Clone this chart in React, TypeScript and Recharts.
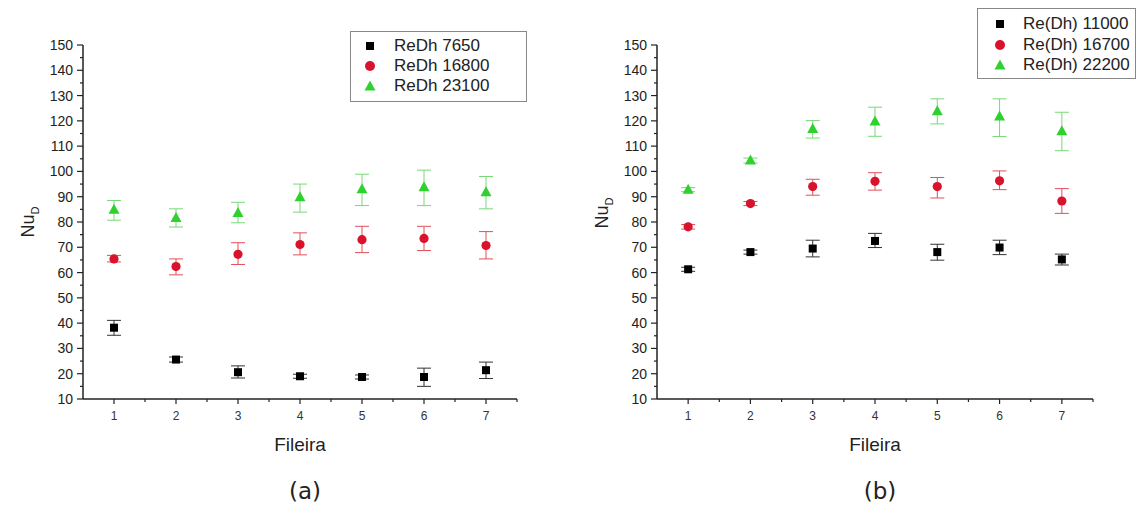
import { ScatterChart, Scatter, XAxis, YAxis, ErrorBar, Legend } from "recharts";

const rows = [1, 2, 3, 4, 5, 6, 7];
const xTicks = [1, 1.5, 2, 2.5, 3, 3.5, 4, 4.5, 5, 5.5, 6, 6.5, 7, 7.5];
const yTicks = [10, 15, 20, 25, 30, 35, 40, 45, 50, 55, 60, 65, 70, 75, 80, 85, 90, 95, 100, 105, 110, 115, 120, 125, 130, 135, 140, 145, 150];

// (a)
const namesA = ["ReDh 7650", "ReDh 16800", "ReDh 23100"];
const a7650 = [38.2, 25.6, 20.6, 19.0, 18.7, 18.7, 21.4];
const a7650Lo = [35.2, 24.6, 18.3, 18.2, 17.9, 15.0, 18.1];
const a7650Hi = [41.1, 26.6, 23.1, 19.8, 19.5, 22.2, 24.6];
const a16800 = [65.4, 62.4, 67.2, 71.1, 73.0, 73.5, 70.7];
const a16800Lo = [64.2, 59.1, 63.2, 67.0, 67.9, 68.7, 65.4];
const a16800Hi = [66.8, 65.4, 71.8, 75.7, 78.3, 78.3, 76.2];
const a23100 = [84.8, 81.6, 83.6, 89.8, 93.0, 93.7, 91.8];
const a23100Lo = [80.7, 78.0, 79.7, 83.9, 86.5, 86.5, 85.2];
const a23100Hi = [88.5, 85.2, 87.8, 95.0, 98.9, 100.5, 98.0];

// (b)
const namesB = ["Re(Dh) 11000", "Re(Dh) 16700", "Re(Dh) 22200"];
const b11000 = [61.3, 68.1, 69.5, 72.5, 68.1, 69.9, 65.2];
const b11000Lo = [60.5, 67.3, 66.2, 69.9, 64.9, 67.1, 63.0];
const b11000Hi = [62.1, 68.9, 72.8, 75.5, 71.2, 72.8, 67.3];
const b16700 = [78.1, 87.3, 94.0, 96.1, 94.0, 96.3, 88.3];
const b16700Lo = [77.2, 86.5, 90.6, 92.6, 89.5, 92.8, 83.4];
const b16700Hi = [79.0, 88.1, 96.9, 99.5, 97.6, 100.2, 93.2];
const b22200 = [92.8, 104.3, 116.8, 119.7, 123.8, 121.7, 115.9];
const b22200Lo = [92.0, 103.3, 113.2, 113.9, 118.8, 113.8, 108.2];
const b22200Hi = [93.6, 105.3, 120.1, 125.4, 128.7, 128.7, 123.4];

const BLACK = "#000000";
const RED = "#d8132b";
const GREEN = "#2ed12e";
const colors = [BLACK, RED, GREEN];
const shapes = ["square", "circle", "triangle"];
const AXIS = "#222";
const TICK_SIZE = 6;
const TICK_MARGIN = 3;
const FONT = "Liberation Sans, Arial, sans-serif";

function build(vals: number[], lo: number[], hi: number[]) {
  return rows.map((x, i) => ({ x, y: vals[i], err: [vals[i] - lo[i], hi[i] - vals[i]] }));
}

function SquareDot(props: any) {
  const { cx, cy } = props;
  return <rect x={cx - 4} y={cy - 4} width={8} height={8} fill={BLACK} />;
}
function CircleDot(props: any) {
  const { cx, cy } = props;
  return <circle cx={cx} cy={cy} r={4.6} fill={RED} />;
}
function TriangleDot(props: any) {
  const { cx, cy } = props;
  return <polygon points={`${cx},${cy - 6} ${cx - 5.5},${cy + 4} ${cx + 5.5},${cy + 4}`} fill={GREEN} />;
}

function YTick(props: any) {
  const { x, y, payload } = props;
  const ax = x + TICK_MARGIN + TICK_SIZE;
  const major = payload.value % 10 === 0;
  return (
    <g>
      <line x1={ax - (major ? 6 : 3)} x2={ax} y1={y} y2={y} stroke={AXIS} strokeWidth={1.2} />
      {major && (
        <text x={ax - 10} y={y} dy="0.36em" textAnchor="end" fontSize={14} fill="#222" fontFamily={FONT}>
          {payload.value}
        </text>
      )}
    </g>
  );
}

function XTick(props: any) {
  const { x, y, payload } = props;
  const ay = y - TICK_MARGIN - TICK_SIZE;
  const major = Number.isInteger(payload.value);
  return (
    <g>
      <line x1={x} x2={x} y1={ay} y2={ay + (major ? 5 : 3)} stroke={AXIS} strokeWidth={1.2} />
      {major && (
        <text x={x} y={ay + 21} textAnchor="middle" fontSize={12} fill="#333" fontFamily={FONT}>
          {payload.value}
        </text>
      )}
    </g>
  );
}

function XLabel(props: any) {
  const { viewBox } = props;
  return (
    <text x={viewBox.x + viewBox.width / 2} y={viewBox.y + 52} textAnchor="middle" fontSize={19} fill="#222" fontFamily={FONT}>
      Fileira
    </text>
  );
}

function makeYLabel(cy: number) {
  return function YLabel(props: any) {
    const { viewBox } = props;
    const cx = viewBox.x + 5;
    return (
      <text transform={`rotate(-90 ${cx} ${cy})`} x={cx} y={cy} dy="0.35em" textAnchor="middle" fontSize={18} fill="#222" fontFamily={FONT}>
        <tspan>Nu</tspan>
        <tspan fontSize={11} dy={5}>D</tspan>
      </text>
    );
  };
}

function LegendSymbol({ kind, color }: { kind: string; color: string }) {
  return (
    <svg width={14} height={14} style={{ display: "block" }}>
      {kind === "square" && <rect x={3} y={3} width={8} height={8} fill={color} />}
      {kind === "circle" && <circle cx={7} cy={7} r={5} fill={color} />}
      {kind === "triangle" && <polygon points="7,1.5 1.5,11.5 12.5,11.5" fill={color} />}
    </svg>
  );
}

function makeLegend(names: string[], padTop: number, symX: number, textX: number, rowH: number) {
  return function LegendBox() {
    return (
      <div style={{ border: "1px solid #888", background: "#fff", boxSizing: "border-box", width: "100%", height: "100%", paddingTop: padTop, position: "relative" }}>
        {names.map((name, i) => (
          <div key={name} style={{ position: "relative", height: rowH, fontSize: 17, fontFamily: FONT, color: "#222", lineHeight: `${rowH}px` }}>
            <div style={{ position: "absolute", left: symX - 7, top: rowH / 2 - 7 }}>
              <LegendSymbol kind={shapes[i]} color={colors[i]} />
            </div>
            <span style={{ position: "absolute", left: textX, top: 0, whiteSpace: "nowrap" }}>{name}</span>
          </div>
        ))}
      </div>
    );
  };
}

interface PanelProps {
  left: number;
  width: number;
  marginLeft: number;
  marginRight: number;
  labelY: number;
  names: string[];
  series: { x: number; y: number; err: number[] }[][];
  legendStyle: any;
  legend: any;
}

function Panel({ left, width, marginLeft, marginRight, labelY, names, series, legendStyle, legend }: PanelProps) {
  return (
    <div style={{ position: "absolute", left, top: 0 }}>
      <ScatterChart width={width} height={470} margin={{ top: 45, right: marginRight, bottom: 41, left: marginLeft }}>
        <XAxis
          type="number"
          dataKey="x"
          domain={[0.5, 7.5]}
          ticks={xTicks}
          interval={0}
          height={30}
          tickSize={TICK_SIZE}
          tickMargin={TICK_MARGIN}
          tickLine={false}
          tick={<XTick />}
          axisLine={{ stroke: AXIS, strokeWidth: 1.5 }}
          label={<XLabel />}
        />
        <YAxis
          type="number"
          dataKey="y"
          domain={[10, 150]}
          allowDataOverflow
          ticks={yTicks}
          interval={0}
          width={60}
          tickSize={TICK_SIZE}
          tickMargin={TICK_MARGIN}
          tickLine={false}
          tick={<YTick />}
          axisLine={{ stroke: AXIS, strokeWidth: 1.5 }}
          label={{ content: makeYLabel(labelY) }}
        />
        <Legend layout="vertical" verticalAlign="middle" align="center" wrapperStyle={legendStyle} content={legend} />
        <Scatter name={names[0]} data={series[0]} fill={BLACK} shape={<SquareDot />} isAnimationActive={false}>
          <ErrorBar dataKey="err" direction="y" width={7} stroke="#333" strokeWidth={1} />
        </Scatter>
        <Scatter name={names[1]} data={series[1]} fill={RED} shape={<CircleDot />} isAnimationActive={false}>
          <ErrorBar dataKey="err" direction="y" width={7} stroke="#e0505a" strokeWidth={1} />
        </Scatter>
        <Scatter name={names[2]} data={series[2]} fill={GREEN} shape={<TriangleDot />} isAnimationActive={false}>
          <ErrorBar dataKey="err" direction="y" width={7} stroke="#78d878" strokeWidth={1} />
        </Scatter>
      </ScatterChart>
    </div>
  );
}

export default function App() {
  const seriesA = [build(a7650, a7650Lo, a7650Hi), build(a16800, a16800Lo, a16800Hi), build(a23100, a23100Lo, a23100Hi)];
  const seriesB = [build(b11000, b11000Lo, b11000Hi), build(b16700, b16700Lo, b16700Hi), build(b22200, b22200Lo, b22200Hi)];
  const caption = { position: "absolute" as const, top: 478, fontSize: 23, fontFamily: "DejaVu Sans, sans-serif", color: "#222", width: 60, textAlign: "center" as const };
  return (
    <div style={{ position: "absolute", left: 0, top: 0, width: 1137, height: 518, background: "#fff", overflow: "hidden" }}>
      <Panel
        left={0}
        width={560}
        marginLeft={23}
        marginRight={43}
        labelY={222}
        names={namesA}
        series={seriesA}
        legendStyle={{ left: 350, top: 31, width: 177, height: 71 }}
        legend={makeLegend(namesA, 4, 19, 43, 20)}
      />
      <Panel
        left={570}
        width={567}
        marginLeft={27}
        marginRight={44}
        labelY={213}
        names={namesB}
        series={seriesB}
        legendStyle={{ left: 407, top: 8, width: 159, height: 71 }}
        legend={makeLegend(namesB, 5, 22, 45, 20.5)}
      />
      <div style={{ ...caption, left: 275 }}>(a)</div>
      <div style={{ ...caption, left: 850 }}>(b)</div>
    </div>
  );
}
